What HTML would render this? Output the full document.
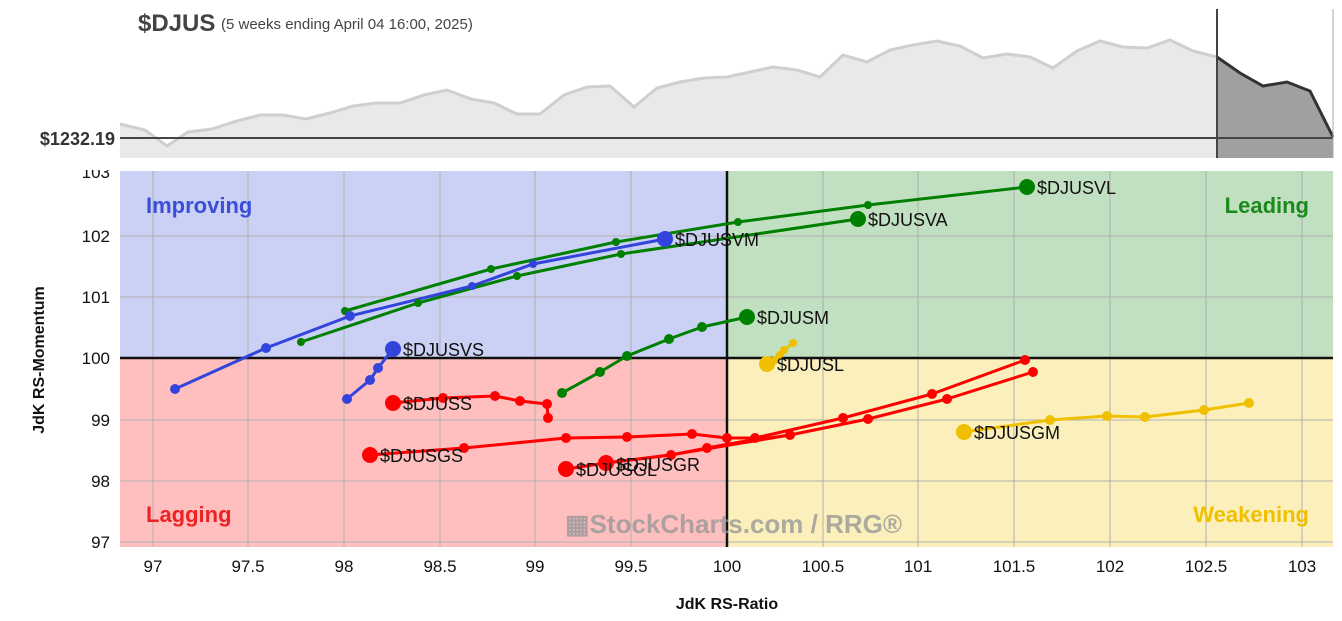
<!DOCTYPE html>
<html><head><style>
body{margin:0;background:#fff;}
svg{display:block;font-family:"Liberation Sans",sans-serif;}
</style></head><body>
<svg width="1342" height="621" viewBox="0 0 1342 621">
<!-- top panel -->
<polygon fill="#e9e9e9" points="120,158 120,124 145,130 167,146 188,132 212,129 237,121 260,115 283,115 306,119 330,113 353,106 377,103 400,103 424,95 447,90 471,99 494,103 517,114 540,114 564,95 587,87 610,86 634,107 657,88 680,82 704,78 727,77 750,72 773,67 797,70 820,77 843,55 867,62 890,50 913,45 937,41 960,46 983,58 1007,54 1030,57 1053,68 1077,51 1100,41 1123,47 1147,48 1170,40 1193,51 1217,57 1217,158"/>
<polyline fill="none" stroke="#cfcfcf" stroke-width="3" points="120,124 145,130 167,146 188,132 212,129 237,121 260,115 283,115 306,119 330,113 353,106 377,103 400,103 424,95 447,90 471,99 494,103 517,114 540,114 564,95 587,87 610,86 634,107 657,88 680,82 704,78 727,77 750,72 773,67 797,70 820,77 843,55 867,62 890,50 913,45 937,41 960,46 983,58 1007,54 1030,57 1053,68 1077,51 1100,41 1123,47 1147,48 1170,40 1193,51 1217,57"/>
<polygon fill="#a0a0a0" points="1217,158 1217,57 1240,73 1263,86 1287,82 1310,91 1333,137 1333,158"/>
<polyline fill="none" stroke="#333" stroke-width="3" points="1217,57 1240,73 1263,86 1287,82 1310,91 1333,137"/>
<line x1="120" y1="138" x2="1333" y2="138" stroke="#444" stroke-width="2"/>
<line x1="1217" y1="9" x2="1217" y2="158" stroke="#444" stroke-width="2"/>
<line x1="1333" y1="9" x2="1333" y2="158" stroke="#aaa" stroke-width="1"/>
<text x="138" y="31" font-size="24" font-weight="bold" fill="#444">$DJUS</text>
<text x="221" y="29" font-size="15" fill="#444">(5 weeks ending April 04 16:00, 2025)</text>
<text x="115" y="145" font-size="18" font-weight="bold" fill="#333" text-anchor="end">$1232.19</text>

<!-- quadrants -->
<rect x="120" y="171" width="607" height="187" fill="#cbd0f5"/>
<rect x="727" y="171" width="606" height="187" fill="#c1e0c1"/>
<rect x="120" y="358" width="607" height="189" fill="#ffbfbf"/>
<rect x="727" y="358" width="606" height="189" fill="#fbefbb"/>
<g stroke="#b0b0b0" stroke-width="1">
<line x1="153" y1="171" x2="153" y2="547"/><line x1="248" y1="171" x2="248" y2="547"/>
<line x1="344" y1="171" x2="344" y2="547"/><line x1="440" y1="171" x2="440" y2="547"/>
<line x1="535" y1="171" x2="535" y2="547"/><line x1="631" y1="171" x2="631" y2="547"/>
<line x1="823" y1="171" x2="823" y2="547"/><line x1="918" y1="171" x2="918" y2="547"/>
<line x1="1014" y1="171" x2="1014" y2="547"/><line x1="1110" y1="171" x2="1110" y2="547"/>
<line x1="1206" y1="171" x2="1206" y2="547"/><line x1="1302" y1="171" x2="1302" y2="547"/>
<line x1="120" y1="236" x2="1333" y2="236"/><line x1="120" y1="297" x2="1333" y2="297"/>
<line x1="120" y1="420" x2="1333" y2="420"/><line x1="120" y1="481" x2="1333" y2="481"/>
<line x1="120" y1="542" x2="1333" y2="542"/>
</g>
<line x1="727" y1="171" x2="727" y2="547" stroke="#111" stroke-width="2.5"/>
<line x1="120" y1="358" x2="1333" y2="358" stroke="#111" stroke-width="2.5"/>

<g font-size="22" font-weight="bold">
<text x="146" y="213" fill="#3a4fd8">Improving</text>
<text x="1309" y="213" fill="#1a8a1a" text-anchor="end">Leading</text>
<text x="146" y="522" fill="#ee2222">Lagging</text>
<text x="1309" y="522" fill="#f0c000" text-anchor="end">Weakening</text>
</g>
<text x="565" y="533" font-size="26" font-weight="bold" fill="#999" opacity="0.8">▦StockCharts.com / RRG®</text>

<!-- series -->
<g fill="none" stroke-width="3" stroke-linejoin="round">
<polyline stroke="#008000" points="345,311 491,269 616,242 738,222 868,205 1027,187"/>
<polyline stroke="#008000" points="301,342 418,303 517,276 621,254 858,219"/>
<polyline stroke="#3344dd" points="175,389 266,348 350,316 472,286 533,264 665,239"/>
<polyline stroke="#3344dd" points="347,399 370,380 378,368 393,349"/>
<polyline stroke="#008000" points="562,393 600,372 627,356 669,339 702,327 747,317"/>
<polyline stroke="#f0c000" points="793,343 784,350 780,355 775,360 767,364"/>
<polyline stroke="#f0c000" points="1249,403 1204,410 1145,417 1107,416 1050,420 964,432"/>
<polyline stroke="#ff0000" points="548,418 547,404 520,401 495,396 443,398 393,403"/>
<polyline stroke="#ff0000" points="1025,360 932,394 843,418 755,438 727,438 692,434 627,437 566,438 464,448 370,455"/>
<polyline stroke="#ff0000" points="566,469 606,463 671,455 707,448 740,442 790,435"/>
<polyline stroke="#ff0000" points="606,463 670,455 790,435 868,419 947,399 1033,372"/>
</g>
<g fill="#008000">
<circle cx="345" cy="311" r="4"/><circle cx="491" cy="269" r="4"/><circle cx="616" cy="242" r="4"/><circle cx="738" cy="222" r="4"/><circle cx="868" cy="205" r="4"/><circle cx="1027" cy="187" r="8"/>
<circle cx="301" cy="342" r="4"/><circle cx="418" cy="303" r="4"/><circle cx="517" cy="276" r="4"/><circle cx="621" cy="254" r="4"/><circle cx="858" cy="219" r="8"/>
<circle cx="562" cy="393" r="5"/><circle cx="600" cy="372" r="5"/><circle cx="627" cy="356" r="5"/><circle cx="669" cy="339" r="5"/><circle cx="702" cy="327" r="5"/><circle cx="747" cy="317" r="8"/>
</g>
<g fill="#3344dd">
<circle cx="175" cy="389" r="5"/><circle cx="266" cy="348" r="5"/><circle cx="350" cy="316" r="5"/><circle cx="472" cy="286" r="4"/><circle cx="533" cy="264" r="4"/><circle cx="665" cy="239" r="8"/>
<circle cx="347" cy="399" r="5"/><circle cx="370" cy="380" r="5"/><circle cx="378" cy="368" r="5"/><circle cx="393" cy="349" r="8"/>
</g>
<g fill="#f0c000">
<circle cx="793" cy="343" r="4"/><circle cx="784" cy="350" r="4"/><circle cx="780" cy="355" r="4"/><circle cx="775" cy="360" r="4"/><circle cx="767" cy="364" r="8"/>
<circle cx="1249" cy="403" r="5"/><circle cx="1204" cy="410" r="5"/><circle cx="1145" cy="417" r="5"/><circle cx="1107" cy="416" r="5"/><circle cx="1050" cy="420" r="5"/><circle cx="964" cy="432" r="8"/>
</g>
<g fill="#ff0000">
<circle cx="548" cy="418" r="5"/><circle cx="547" cy="404" r="5"/><circle cx="520" cy="401" r="5"/><circle cx="495" cy="396" r="5"/><circle cx="443" cy="398" r="5"/><circle cx="393" cy="403" r="8"/>
<circle cx="1025" cy="360" r="5"/><circle cx="932" cy="394" r="5"/><circle cx="843" cy="418" r="5"/><circle cx="755" cy="438" r="5"/><circle cx="727" cy="438" r="5"/><circle cx="692" cy="434" r="5"/><circle cx="627" cy="437" r="5"/><circle cx="566" cy="438" r="5"/><circle cx="464" cy="448" r="5"/><circle cx="370" cy="455" r="8"/>
<circle cx="566" cy="469" r="8"/><circle cx="671" cy="455" r="5"/><circle cx="707" cy="448" r="5"/>
<circle cx="606" cy="463" r="8"/><circle cx="790" cy="435" r="5"/><circle cx="868" cy="419" r="5"/><circle cx="947" cy="399" r="5"/><circle cx="1033" cy="372" r="5"/>
</g>
<g font-size="18" fill="#111">
<text x="1037" y="194">$DJUSVL</text>
<text x="868" y="226">$DJUSVA</text>
<text x="675" y="246">$DJUSVM</text>
<text x="403" y="356">$DJUSVS</text>
<text x="757" y="324">$DJUSM</text>
<text x="777" y="371">$DJUSL</text>
<text x="974" y="439">$DJUSGM</text>
<text x="403" y="410">$DJUSS</text>
<text x="380" y="462">$DJUSGS</text>
<text x="576" y="476">$DJUSGL</text>
<text x="616" y="471">$DJUSGR</text>
</g>

<!-- axes labels -->
<g font-size="17" fill="#111" text-anchor="end">
<text x="110" y="178">103</text><text x="110" y="242">102</text><text x="110" y="303">101</text>
<text x="110" y="364">100</text><text x="110" y="426">99</text><text x="110" y="487">98</text><text x="110" y="548">97</text>
</g>
<rect x="60" y="158" width="60" height="12" fill="#fff"/>
<g font-size="17" fill="#111" text-anchor="middle">
<text x="153" y="572">97</text><text x="248" y="572">97.5</text><text x="344" y="572">98</text><text x="440" y="572">98.5</text>
<text x="535" y="572">99</text><text x="631" y="572">99.5</text><text x="727" y="572">100</text><text x="823" y="572">100.5</text>
<text x="918" y="572">101</text><text x="1014" y="572">101.5</text><text x="1110" y="572">102</text><text x="1206" y="572">102.5</text><text x="1302" y="572">103</text>
</g>
<text x="727" y="609" font-size="16" font-weight="bold" fill="#111" text-anchor="middle">JdK RS-Ratio</text>
<text transform="translate(44,360) rotate(-90)" font-size="16" font-weight="bold" fill="#111" text-anchor="middle">JdK RS-Momentum</text>
</svg>
</body></html>
